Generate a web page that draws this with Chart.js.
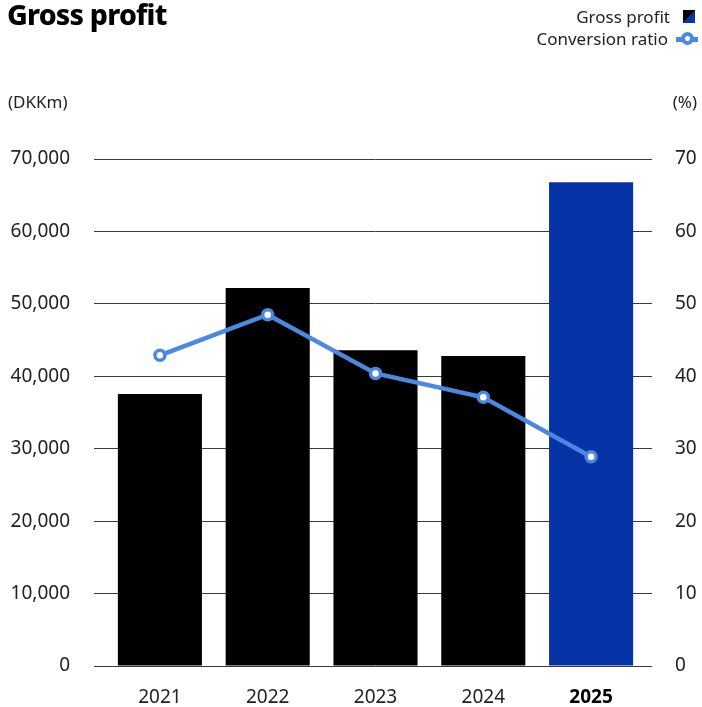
<!DOCTYPE html>
<html lang="en">
<head>
    <meta charset="UTF-8">
    <title>Gross profit</title>
    <script src="https://cdn.jsdelivr.net/npm/chart.js"></script>
    <style>
        body {
            margin: 0;
            background: #ffffff;
            font-family: "Noto Sans", sans-serif;
            color: #222222;
        }
        #wrap {
            position: relative;
            width: 702px;
            height: 707px;
        }
        #title {
            position: absolute;
            left: 7px;
            top: -5px;
            font-size: 28.5px;
            font-weight: 800;
            letter-spacing: -0.8px;
            color: #000000;
        }
        .legend-row {
            position: absolute;
            right: 4px;
            font-size: 17px;
            display: flex;
            align-items: center;
            white-space: nowrap;
        }
        .swatch-bar {
            width: 12px;
            height: 13px;
            margin-left: 13px;
            background: linear-gradient(to bottom right, #000000 50%, #0633a5 50%);
        }
        .swatch-line {
            position: relative;
            width: 22px;
            height: 14px;
            margin-left: 8px;
        }
        .swatch-line::before {
            content: "";
            position: absolute;
            left: 0;
            right: 0;
            top: 5px;
            height: 5px;
            background: #4a88e2;
        }
        .swatch-line::after {
            content: "";
            position: absolute;
            left: 5px;
            top: 0;
            width: 5px;
            height: 5px;
            border: 4.5px solid #4a88e2;
            border-radius: 50%;
            background: #ffffff;
        }
        .unit {
            position: absolute;
            top: 90px;
            font-size: 17px;
        }
        #chart-box {
            position: absolute;
            left: 0;
            top: 0;
            width: 702px;
            height: 707px;
        }
    </style>
</head>
<body>
<div id="wrap">
    <div id="chart-box"><canvas id="grossChart" width="702" height="707"></canvas></div>
    <div id="title">Gross profit</div>
    <div class="legend-row" style="top: 5px; right: 7px;">Gross profit<span class="swatch-bar"></span></div>
    <div class="legend-row" style="top: 27px;">Conversion ratio<span class="swatch-line"></span></div>
    <div class="unit" style="left: 8px;">(DKKm)</div>
    <div class="unit" style="right: 5px;">(%)</div>
</div>

<script>
    // Gross profit in DKK million and conversion ratio in %
    var years = ['2021', '2022', '2023', '2024', '2025'];
    var grossProfit = [37550, 52200, 43600, 42800, 66800];
    var conversionRatio = [42.9, 48.5, 40.4, 37.1, 28.9];
    var barColors = ['#000000', '#000000', '#000000', '#000000', '#0633a5'];

    var gridColor = '#3a3a3a';
    var tickFont = { family: 'Noto Sans', size: 19 };

    var ctx = document.getElementById('grossChart').getContext('2d');
    var grossChart = new Chart(ctx, {
        type: 'bar',
        data: {
            labels: years,
            datasets: [{
                type: 'line',
                label: 'Conversion ratio',
                data: conversionRatio,
                yAxisID: 'y1',
                borderColor: '#4a88e2',
                borderWidth: 4.5,
                pointRadius: 5,
                pointBorderWidth: 3.5,
                pointBackgroundColor: '#ffffff',
                pointBorderColor: '#4a88e2',
                tension: 0,
                order: 0
            }, {
                label: 'Gross profit',
                data: grossProfit,
                yAxisID: 'y',
                backgroundColor: barColors,
                categoryPercentage: 1,
                barPercentage: 0.78,
                order: 1
            }]
        },
        options: {
            responsive: false,
            animation: false,
            layout: {
                padding: { top: 159, left: 0, right: 0, bottom: 0 }
            },
            plugins: {
                legend: { display: false },
                tooltip: { enabled: false }
            },
            scales: {
                x: {
                    grid: { display: false },
                    border: { display: false },
                    ticks: {
                        padding: 12,
                        color: function(c) { return c.index === 4 ? '#000000' : '#222222'; },
                        font: function(c) {
                            return { family: 'Noto Sans', size: 19, weight: c.index === 4 ? 'bold' : 'normal' };
                        }
                    },
                    afterFit: function(scale) { scale.height = 41; }
                },
                y: {
                    position: 'left',
                    min: 0,
                    max: 70000,
                    border: { display: false },
                    grid: { color: gridColor, lineWidth: 1, tickLength: 12 },
                    ticks: {
                        stepSize: 10000,
                        padding: 24,
                        color: '#222222',
                        font: tickFont,
                        callback: function(v) { return v.toLocaleString('en-US'); }
                    },
                    afterFit: function(scale) { scale.width = 106; }
                },
                y1: {
                    position: 'right',
                    min: 0,
                    max: 70,
                    border: { display: false },
                    grid: { color: gridColor, lineWidth: 1, drawOnChartArea: false, tickLength: 7 },
                    ticks: {
                        stepSize: 10,
                        padding: 23,
                        color: '#222222',
                        font: tickFont
                    },
                    afterFit: function(scale) { scale.width = 57; }
                }
            }
        }
    });
</script>
</body>
</html>
